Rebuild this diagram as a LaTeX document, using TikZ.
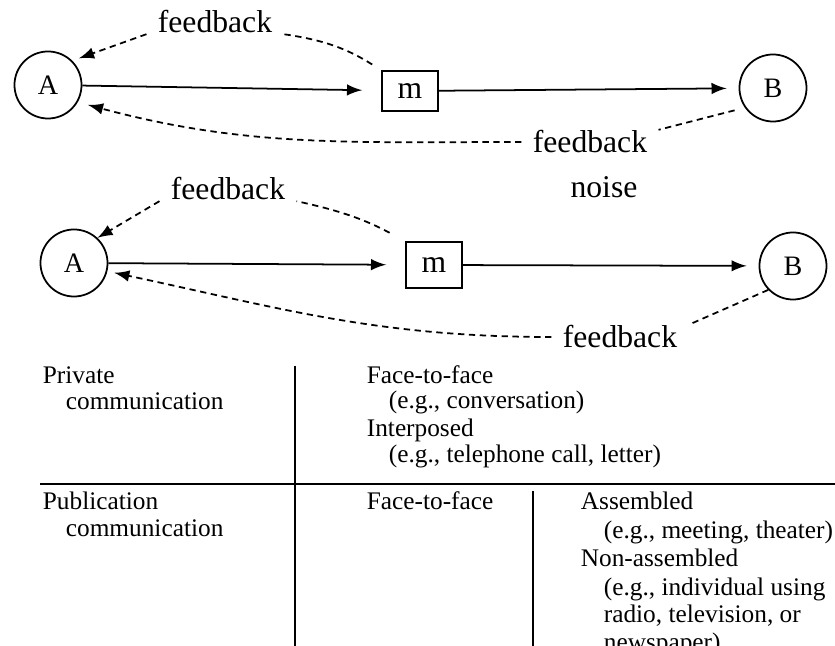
\documentclass[tikz,border=0pt]{standalone}
\usepackage{fontspec}
\setmainfont{Liberation Serif}
\begin{document}
\begin{tikzpicture}[x=0.01cm,y=0.01cm,>=latex,line width=0.5pt,
  party/.style={circle,draw,minimum size=0.67cm,inner sep=0pt,font=\fontsize{8}{9}\selectfont},
  msg/.style={draw,minimum width=0.56cm,minimum height=0.40cm,inner sep=0pt,font=\fontsize{9}{10}\selectfont},
  lab/.style={anchor=base,inner xsep=3pt,inner ysep=0pt,font=\fontsize{9}{10}\selectfont},
  fb/.style={dash pattern=on 1.8pt off 1.3pt},
  cell/.style={anchor=base west,inner sep=0pt,font=\fontsize{7.2}{8}\selectfont}]
\useasboundingbox (0,0) rectangle (835,-646);
\clip (0,0) rectangle (835,-646);

%first model
\node[party] (A1) at (48,-85) {A};
\node[msg] (m1) at (410,-91) {m};
\node[party] (B1) at (773,-88) {B};
\node[lab] (fb1) at (215,-33) {feedback};
\node[lab] (fb2) at (590,-153) {feedback};
\draw[->,shorten >=5.4pt] (A1) -- (m1);
\draw[->,shorten >=3.4pt] (m1) -- (B1);
\draw[fb,shorten <=3pt] (m1.north west) to[bend right=12] (fb1.south east);
\draw[fb,->,shorten >=2pt] (fb1.south west) -- (A1.45);
\draw[fb,shorten <=3pt] (B1.215) -- (fb2.north east);
\draw[fb,->,shorten >=3pt] (fb2.west) to[out=180,in=-15] (A1.-30);

%second model
\node[party] (A2) at (74,-263) {A};
\node[msg,minimum height=0.46cm] (m2) at (434,-265) {m};
\node[party] (B2) at (793,-266) {B};
\node[lab] (fb3) at (228,-200) {feedback};
\node[lab] (noise) at (604,-198) {noise};
\node[lab] (fb4) at (620,-348) {feedback};
\draw[->,shorten >=5.4pt] (A2) -- (m2);
\draw[->,shorten >=3.4pt] (m2) -- (B2);
\draw[fb,shorten <=5pt] (m2.north west) to[bend right=8] (fb3.south east);
\draw[fb,->] (fb3.south west) -- (A2.47);
\draw[fb] (B2.224) -- (fb4.north east);
\draw[fb,->,shorten >=2pt] (fb4.west) to[out=180,in=-12] (A2.-14);

%table
\draw (295,-366) -- (295,-646);
\draw (40,-484) -- (835,-484);
\draw (533,-491) -- (533,-646);

\node[cell] (priv) at (42,-384) {Private};
\node[cell] (priv2) at (65,-410) {communication};
\node[cell] (ff1) at (366,-384) {Face-to-face};
\node[cell] (ff1e) at (388,-409) {(e.g., conversation)};
\node[cell] (inter) at (366,-437) {Interposed};
\node[cell] (intere) at (388,-463) {(e.g., telephone call, letter)};

\node[cell] (pub) at (42,-510) {Publication};
\node[cell] (pub2) at (65,-537) {communication};
\node[cell] (ff2) at (366,-510) {Face-to-face};
\node[cell] (asm) at (580,-510) {Assembled};
\node[cell] (asme) at (603,-539) {(e.g., meeting, theater)};
\node[cell] (nasm) at (580,-567) {Non-assembled};
\node[cell] (nasme) at (603,-596) {(e.g., individual using};
\node[cell] (nasme2) at (603,-623) {radio, television, or};
\node[cell] (nasme3) at (603,-651) {newspaper)};
\end{tikzpicture}
\end{document}
